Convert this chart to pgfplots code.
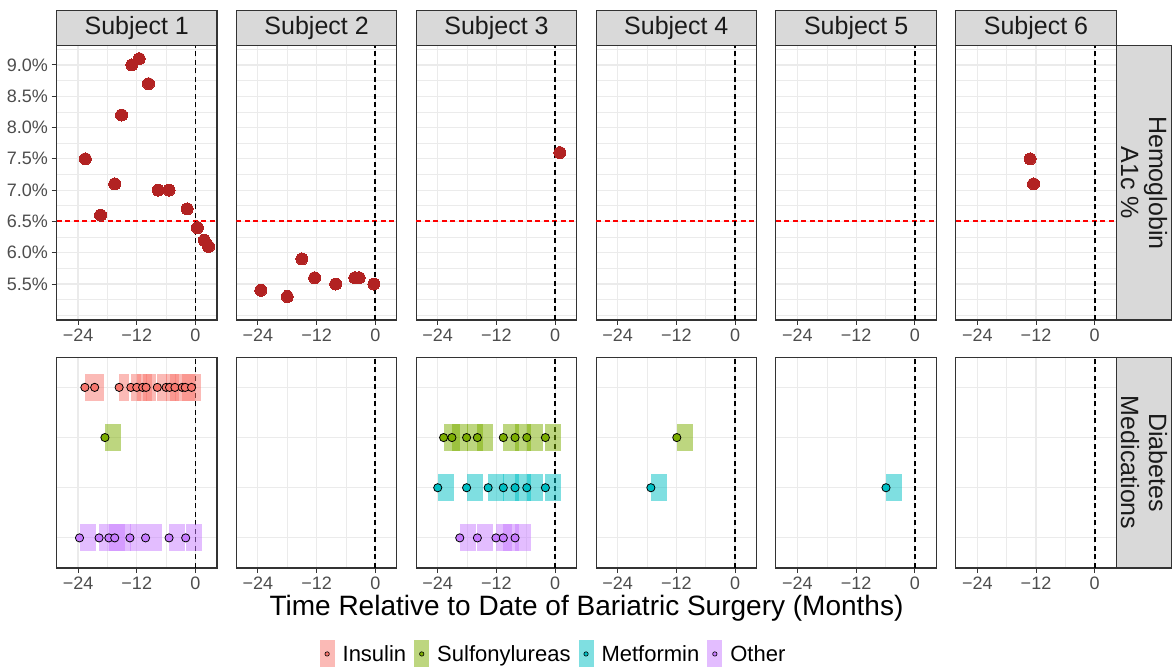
\documentclass[border=0pt]{standalone}
\usepackage{fontspec}
\setmainfont{Liberation Sans}
\usepackage{pgfplots}
\pgfplotsset{compat=1.18}
\definecolor{insulin}{HTML}{F8766D}
\definecolor{sulf}{HTML}{7CAE00}
\definecolor{metf}{HTML}{00BFC4}
\definecolor{other}{HTML}{C77CFF}
\definecolor{ptred}{HTML}{B22222}
\definecolor{gridc}{HTML}{EBEBEB}
\definecolor{border}{HTML}{333333}
\definecolor{tickc}{HTML}{4D4D4D}
\definecolor{stripf}{HTML}{D9D9D9}
\definecolor{stript}{HTML}{1A1A1A}
\pgfdeclareplotmark{rectlong}{\pgfpathrectanglecorners{\pgfpoint{0pt}{-13.6pt}}{\pgfpoint{16.1pt}{13.6pt}}\pgfusepathqfill}
\pgfdeclareplotmark{rectshort}{\pgfpathrectanglecorners{\pgfpoint{0pt}{-13.6pt}}{\pgfpoint{9.8pt}{13.6pt}}\pgfusepathqfill}
\pgfplotsset{
  base/.style={scale only axis, width=160.5pt, anchor=south west,
    xmin=-28.4, xmax=4.4,
    axis line style={draw=border, line width=1.1pt},
    xtick={-24,-12,0}, xticklabels={−24,−12,0}, minor xtick={-18,-6},
    xmajorgrids, xminorgrids, ymajorgrids,
    major grid style={draw=gridc, line width=1.1pt},
    minor grid style={draw=gridc, line width=0.6pt},
    tick align=outside, major tick length=5pt,
    major tick style={draw=border, line width=1pt},
    minor tick style={draw=none},
    xtick pos=left, ytick pos=left,
    x tick label style={font=\fontsize{18}{20}\selectfont, text=tickc},
    y tick label style={font=\fontsize{18}{20}\selectfont, text=tickc},
  },
  top/.style={base, height=274.3pt, ymin=4.925, ymax=9.308,
    ytick={5.5,6,6.5,7,7.5,8,8.5,9},
    minor ytick={5,5.25,5.75,6.25,6.75,7.25,7.75,8.25,8.75,9.25},
    yminorgrids},
  noy/.style={yticklabels={}, ytick style={draw=none}},
  bot/.style={base, height=210.7pt, ymin=0.4, ymax=4.6, ytick={1,2,3,4},
    noy},
  hba/.style={only marks, color=ptred, mark=*, mark size=6pt, mark options={fill=ptred, draw=ptred, line width=0pt}},
  rl/.style={only marks, mark=rectlong, mark options={fill=#1, fill opacity=0.5, draw=none}},
  rs/.style={only marks, mark=rectshort, mark options={fill=#1, fill opacity=0.5, draw=none}},
  md/.style={only marks, mark=*, mark size=4.1pt, mark options={fill=#1, draw=black, line width=0.8pt}},
}
\newcommand{\refh}{\addplot[red, solid, line width=2pt, dash pattern=on 5pt off 3.5pt, mark=none] coordinates {(-28.4,6.5) (4.4,6.5)};}
\newcommand{\refvt}{\addplot[black, solid, line width=1.7pt, dash pattern=on 5pt off 3.5pt, mark=none] coordinates {(0,4.925) (0,9.308)};}
\newcommand{\refvb}{\addplot[black, solid, line width=1.7pt, dash pattern=on 5pt off 3.5pt, mark=none, forget plot] coordinates {(0,0.4) (0,4.6)};}
\begin{document}
\begin{tikzpicture}[x=1pt,y=1pt]
\useasboundingbox (0,0) rectangle (1172,668);
% ---------------- top row ----------------
\begin{axis}[top, at={(56.5pt,348pt)}, yticklabels={5.5\%,6.0\%,6.5\%,7.0\%,7.5\%,8.0\%,8.5\%,9.0\%}]
\refh \refvt
\addplot[hba] coordinates {(-22.5,7.5) (-19.4,6.6) (-16.5,7.1) (-15.1,8.2) (-13.0,9.0) (-11.5,9.1) (-9.6,8.7) (-7.6,7.0) (-5.4,7.0) (-1.7,6.7) (0.4,6.4) (1.8,6.2) (2.7,6.1)};
\end{axis}
\begin{axis}[top, noy, at={(236.35pt,348pt)}]
\refh \refvt
\addplot[hba] coordinates {(-23.4,5.4) (-18.0,5.3) (-15.0,5.9) (-12.4,5.6) (-8.1,5.5) (-4.2,5.6) (-3.3,5.6) (-0.3,5.5)};
\end{axis}
\begin{axis}[top, noy, at={(416.2pt,348pt)}]
\refh \refvt
\addplot[hba] coordinates {(0.95,7.6)};
\end{axis}
\begin{axis}[top, noy, at={(596.05pt,348pt)}]
\refh \refvt
\end{axis}
\begin{axis}[top, noy, at={(775.9pt,348pt)}]
\refh \refvt
\end{axis}
\begin{axis}[top, noy, at={(955.75pt,348pt)}]
\refh \refvt
\addplot[hba] coordinates {(-13.2,7.5) (-12.5,7.1)};
\end{axis}
% ---------------- bottom row ----------------
\begin{axis}[bot, at={(56.5pt,100pt)}]
\refvb
\addplot[rs=insulin] coordinates {(-22.6,4) (-20.6,4) (-15.6,4) (-13.2,4) (-12.0,4) (-10.8,4) (-10.1,4) (-7.8,4) (-6.0,4) (-5.3,4) (-4.2,4) (-2.7,4) (-2.1,4) (-0.8,4)};
\addplot[rl=sulf] coordinates {(-18.5,3)};
\addplot[rl=other] coordinates {(-23.7,1) (-19.7,1) (-17.7,1) (-16.5,1) (-13.4,1) (-10.2,1) (-5.4,1) (-2.0,1)};
\addplot[md=insulin] coordinates {(-22.6,4) (-20.6,4) (-15.6,4) (-13.2,4) (-12.0,4) (-10.8,4) (-10.1,4) (-7.8,4) (-6.0,4) (-5.3,4) (-4.2,4) (-2.7,4) (-2.1,4) (-0.8,4)};
\addplot[md=sulf] coordinates {(-18.5,3)};
\addplot[md=other] coordinates {(-23.7,1) (-19.7,1) (-17.7,1) (-16.5,1) (-13.4,1) (-10.2,1) (-5.4,1) (-2.0,1)};
\end{axis}
\begin{axis}[bot, at={(236.35pt,100pt)}, legend columns=4,
  legend style={at={(1.976,-0.408)}, anchor=center, draw=none, fill=none,
    font=\fontsize{22}{24}\selectfont, /tikz/every even column/.append style={column sep=6pt}}]
\refvb
\addlegendimage{legend image code/.code={\path[draw=none] (0pt,0pt) -- (21pt,0pt); \fill[draw=none, insulin, fill opacity=0.5] (0pt,-13.5pt) rectangle (15pt,13.5pt); \filldraw[fill=insulin, draw=black, line width=0.6pt] (7.5pt,0pt) circle (2.2pt);}}
\addlegendentry{Insulin}
\addlegendimage{legend image code/.code={\path[draw=none] (0pt,0pt) -- (21pt,0pt); \fill[draw=none, sulf, fill opacity=0.5] (0pt,-13.5pt) rectangle (15pt,13.5pt); \filldraw[fill=sulf, draw=black, line width=0.6pt] (7.5pt,0pt) circle (2.2pt);}}
\addlegendentry{Sulfonylureas}
\addlegendimage{legend image code/.code={\path[draw=none] (0pt,0pt) -- (21pt,0pt); \fill[draw=none, metf, fill opacity=0.5] (0pt,-13.5pt) rectangle (15pt,13.5pt); \filldraw[fill=metf, draw=black, line width=0.6pt] (7.5pt,0pt) circle (2.2pt);}}
\addlegendentry{Metformin}
\addlegendimage{legend image code/.code={\path[draw=none] (0pt,0pt) -- (21pt,0pt); \fill[draw=none, other, fill opacity=0.5] (0pt,-13.5pt) rectangle (15pt,13.5pt); \filldraw[fill=other, draw=black, line width=0.6pt] (7.5pt,0pt) circle (2.2pt);}}
\addlegendentry{Other}
\end{axis}
\begin{axis}[bot, at={(416.2pt,100pt)}]
\refvb
\addplot[rl=sulf] coordinates {(-22.8,3) (-21.1,3) (-18.1,3) (-15.9,3) (-10.6,3) (-8.2,3) (-5.8,3) (-2.0,3)};
\addplot[rl=metf] coordinates {(-24.0,2) (-18.1,2) (-13.7,2) (-10.6,2) (-8.2,2) (-5.8,2) (-2.0,2)};
\addplot[rl=other] coordinates {(-19.5,1) (-15.9,1) (-12.1,1) (-10.6,1) (-8.2,1)};
\addplot[md=sulf] coordinates {(-22.8,3) (-21.1,3) (-18.1,3) (-15.9,3) (-10.6,3) (-8.2,3) (-5.8,3) (-2.0,3)};
\addplot[md=metf] coordinates {(-24.0,2) (-18.1,2) (-13.7,2) (-10.6,2) (-8.2,2) (-5.8,2) (-2.0,2)};
\addplot[md=other] coordinates {(-19.5,1) (-15.9,1) (-12.1,1) (-10.6,1) (-8.2,1)};
\end{axis}
\begin{axis}[bot, at={(596.05pt,100pt)}]
\refvb
\addplot[rl=sulf] coordinates {(-11.9,3)};
\addplot[rl=metf] coordinates {(-17.2,2)};
\addplot[md=sulf] coordinates {(-11.9,3)};
\addplot[md=metf] coordinates {(-17.2,2)};
\end{axis}
\begin{axis}[bot, at={(775.9pt,100pt)}]
\refvb
\addplot[rl=metf] coordinates {(-5.9,2)};
\addplot[md=metf] coordinates {(-5.9,2)};
\end{axis}
\begin{axis}[bot, at={(955.75pt,100pt)}]
\refvb
\end{axis}
% ---------------- strips ----------------
\foreach \k/\xl in {1/56.5,2/236.35,3/416.2,4/596.05,5/775.9,6/955.75}{
  \filldraw[fill=stripf, draw=border, line width=1.1pt] (\xl,622.3) rectangle ++(160.5,35);
  \node[text=stript, font=\fontsize{25}{28}\selectfont] at (\xl+80.25,639.8) {Subject \k};
}
\filldraw[fill=stripf, draw=border, line width=1.1pt] (1116.25,348) rectangle (1171.45,622.3);
\node[text=stript, font=\fontsize{25}{28}\selectfont, rotate=-90, align=center] at (1144,485.15) {Hemoglobin\\A1c \%};
\filldraw[fill=stripf, draw=border, line width=1.1pt] (1116.25,100) rectangle (1171.45,310.7);
\node[text=stript, font=\fontsize{25}{28}\selectfont, rotate=-90, align=center] at (1144,205.35) {Diabetes\\Medications};
\node[font=\fontsize{28}{32}\selectfont] at (586.5,60) {Time Relative to Date of Bariatric Surgery (Months)};
\end{tikzpicture}
\end{document}
